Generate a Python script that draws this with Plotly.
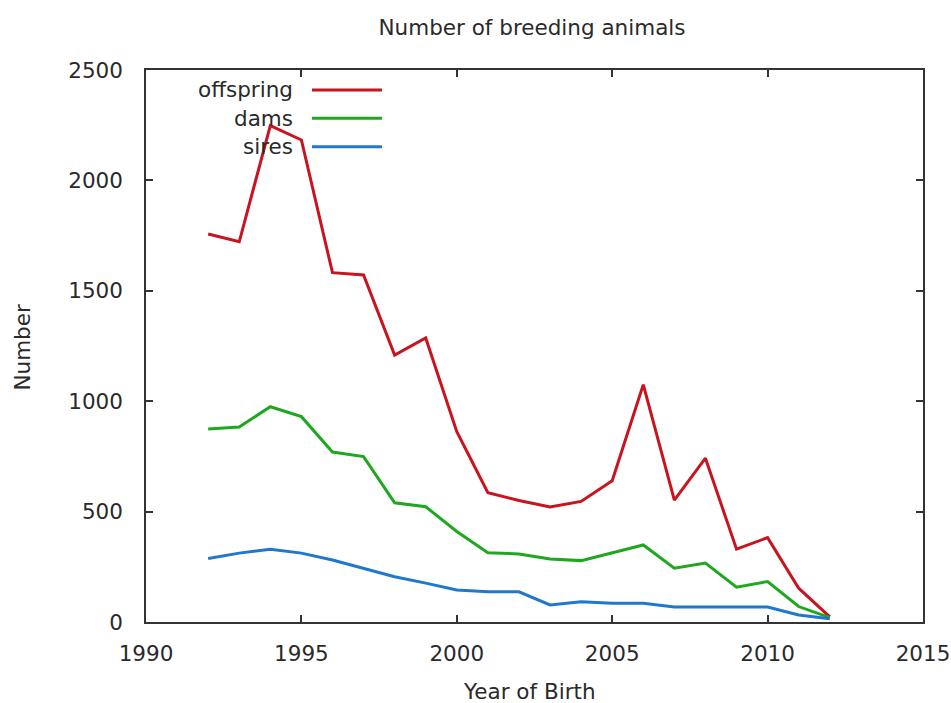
import plotly.graph_objects as go

years = list(range(1992, 2013))
offspring = [1757, 1722, 2248, 2183, 1582, 1572, 1209, 1286, 862, 586, 550, 521, 546, 640, 1075, 552, 742, 330, 382, 153, 23]
dams = [874, 883, 975, 930, 770, 749, 540, 522, 410, 314, 308, 285, 278, 312, 349, 244, 267, 158, 183, 70, 20]
sires = [288, 312, 330, 312, 281, 244, 205, 176, 145, 137, 137, 77, 92, 85, 85, 68, 68, 68, 68, 32, 15]

series_names = ["offspring", "dams", "sires"]
series_values = [offspring, dams, sires]
colors = ["#c8141e", "#1fa81f", "#1f78cc"]

x_ticks = [1990, 1995, 2000, 2005, 2010, 2015]
y_ticks = [0, 500, 1000, 1500, 2000, 2500]

FONT = "DejaVu Sans, sans-serif"
FS = 21.5
TXT = "#2a2a2a"
LW = 3

W, H = 951, 703

fig = go.Figure()
for name, vals, col in zip(series_names, series_values, colors):
    fig.add_trace(go.Scatter(x=years, y=vals, mode="lines", name=name,
                             line=dict(color=col, width=LW), showlegend=False))

# gnuplot-style legend: right-aligned label followed by line sample
leg_y = [0.9638, 0.9125, 0.861]
for name, col, yy in zip(series_names, colors, leg_y):
    fig.add_annotation(xref="x domain", yref="y domain", x=0.188, y=yy,
                       text=name, showarrow=False, xanchor="right", yanchor="middle",
                       xshift=3, font=dict(family=FONT, size=FS, color=TXT))
    fig.add_shape(type="line", xref="x domain", yref="y domain",
                  x0=0.2136, x1=0.3037, y0=yy, y1=yy,
                  line=dict(color=col, width=LW))

# axis titles
fig.add_annotation(xref="paper", yref="paper", x=0.493, y=-0.125,
                   text="Year of Birth", showarrow=False, xanchor="center", yanchor="middle",
                   font=dict(family=FONT, size=FS, color=TXT))
fig.add_annotation(xref="paper", yref="paper", x=-0.159, y=0.498, textangle=-90,
                   text="Number", showarrow=False, xanchor="center", yanchor="middle",
                   font=dict(family=FONT, size=FS, color=TXT))

axis_common = dict(showgrid=False, zeroline=False, showline=True, linecolor="#333",
                   linewidth=1.5, mirror="ticks", ticks="inside", ticklen=7,
                   tickcolor="#333", tickwidth=1.5, automargin=False,
                   ticklabeloverflow="allow",
                   tickfont=dict(family=FONT, size=FS, color=TXT))

fig.update_xaxes(range=[1990, 2015], tickvals=x_ticks, ticktext=[str(v) for v in x_ticks],
                 ticklabelstandoff=11, **axis_common)
fig.update_yaxes(range=[0, 2500], tickvals=y_ticks, ticktext=[str(v) for v in y_ticks],
                 ticklabelstandoff=17, **axis_common)

fig.update_layout(
    width=W, height=H,
    margin=dict(l=146, r=28, t=70, b=81, autoexpand=False),
    paper_bgcolor="white", plot_bgcolor="white",
    title=dict(text="Number of breeding animals", x=532 / W, xanchor="center",
               y=1 - 27 / H, yanchor="middle",
               font=dict(family=FONT, size=FS, color=TXT)),
)

fig.write_html("out.html",
               config={"displayModeBar": False},
               post_script="document.body.style.margin='0';document.body.style.overflow='hidden';")
